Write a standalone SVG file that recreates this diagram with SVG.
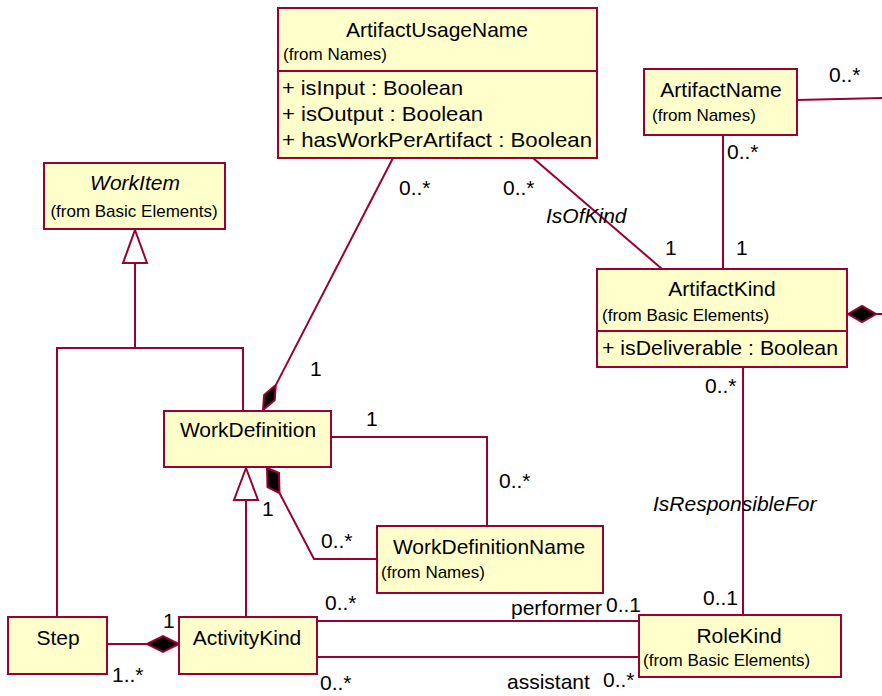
<svg xmlns="http://www.w3.org/2000/svg" width="882" height="696" viewBox="0 0 882 696">
<style>
.box{fill:#FFFFCC;stroke:#990033;stroke-width:2}
.ln{fill:none;stroke:#990033;stroke-width:2}
.dia{fill:#000;stroke:#990033;stroke-width:2;stroke-linejoin:miter}
.tri{fill:#fff;stroke:#990033;stroke-width:2}
text{font-family:"Liberation Sans",Arial,sans-serif;fill:#000}
.t{font-size:21px}
.c{text-anchor:middle}
.s{font-size:17px}
.i{font-style:italic}
</style>
<rect width="882" height="696" fill="#fff"/>
<g id="connectors">
<line class="ln" x1="393" y1="158" x2="275.8" y2="385.1"/>
<polygon class="dia" points="263,410 274.7,400.3 275.8,385.1 264.1,394.9"/>
<line class="ln" x1="533" y1="158" x2="662" y2="269"/>
<line class="ln" x1="723" y1="135" x2="723" y2="269"/>
<line class="ln" x1="797" y1="100" x2="882" y2="98"/>
<polygon class="dia" points="848,314 862,306 876,314 862,322"/>
<line class="ln" x1="876" y1="314" x2="882" y2="314"/>
<line class="ln" x1="743" y1="367" x2="743" y2="615"/>
<polygon class="tri" points="135,230 147,263 123,263"/>
<polyline class="ln" points="135,263 135,348"/>
<polyline class="ln" points="57,617 57,348 243,348 243,411"/>
<polyline class="ln" points="331,437 487,437 487,526"/>
<polygon class="dia" points="267,468 279,473 279.5,493 267.5,487"/>
<polyline class="ln" points="279.5,493 314,559 377,559"/>
<polygon class="tri" points="246,468 258,500 234,500"/>
<line class="ln" x1="246" y1="500" x2="246" y2="617"/>
<line class="ln" x1="107" y1="644" x2="147" y2="644"/>
<polygon class="dia" points="147,644 163,636 179,644 163,652"/>
<line class="ln" x1="317" y1="621" x2="639" y2="621"/>
<line class="ln" x1="317" y1="657" x2="639" y2="657"/>
<g id="labels">
<text class="t" x="399" y="195">0..*</text>
<text class="t" x="503" y="195">0..*</text>
<text class="t i" x="546" y="223">IsOfKind</text>
<text class="t" x="665" y="255">1</text>
<text class="t" x="736" y="255">1</text>
<text class="t" x="829" y="82">0..*</text>
<text class="t" x="727" y="159">0..*</text>
<text class="t" x="310" y="376">1</text>
<text class="t" x="366" y="426">1</text>
<text class="t" x="499" y="488">0..*</text>
<text class="t" x="321" y="548">0..*</text>
<text class="t" x="262" y="516">1</text>
<text class="t" x="705" y="393">0..*</text>
<text class="t i" x="653" y="511">IsResponsibleFor</text>
<text class="t" x="703" y="605">0..1</text>
<text class="t" x="511" y="615">performer</text>
<text class="t" x="606" y="612">0..1</text>
<text class="t" x="325" y="610">0..*</text>
<text class="t" x="320" y="690">0..*</text>
<text class="t" x="163" y="628">1</text>
<text class="t" x="112" y="682">1..*</text>
<text class="t" x="507" y="689">assistant</text>
<text class="t" x="603" y="687">0..*</text>
</g>
</g>
<g id="ArtifactUsageName">
<rect class="box" x="278" y="8" width="319" height="150"/>
<line class="ln" x1="278" y1="71" x2="597" y2="71"/>
<text class="t c" x="437" y="37">ArtifactUsageName</text>
<text class="s" x="283" y="60">(from Names)</text>
<text class="t" x="282" y="95" textLength="181" lengthAdjust="spacingAndGlyphs">+ isInput : Boolean</text>
<text class="t" x="282" y="121" textLength="201" lengthAdjust="spacingAndGlyphs">+ isOutput : Boolean</text>
<text class="t" x="282" y="147" textLength="310" lengthAdjust="spacingAndGlyphs">+ hasWorkPerArtifact : Boolean</text>
</g>
<g id="ArtifactName">
<rect class="box" x="644" y="69" width="153" height="66"/>
<text class="t c" x="721" y="97">ArtifactName</text>
<text class="s" x="652" y="121">(from Names)</text>
</g>
<g id="WorkItem">
<rect class="box" x="44" y="163" width="181" height="66"/>
<text class="t c i" x="135" y="190">WorkItem</text>
<text class="s c" x="134" y="217">(from Basic Elements)</text>
</g>
<g id="ArtifactKind">
<rect class="box" x="597" y="269" width="250" height="98"/>
<line class="ln" x1="597" y1="331" x2="847" y2="331"/>
<text class="t c" x="722" y="296">ArtifactKind</text>
<text class="s" x="602" y="321">(from Basic Elements)</text>
<text class="t" x="602" y="355" textLength="236" lengthAdjust="spacingAndGlyphs">+ isDeliverable : Boolean</text>
</g>
<g id="WorkDefinition">
<rect class="box" x="164" y="411" width="167" height="56"/>
<text class="t c" x="248" y="437">WorkDefinition</text>
</g>
<g id="WorkDefinitionName">
<rect class="box" x="377" y="526" width="226" height="67"/>
<text class="t c" x="489" y="554">WorkDefinitionName</text>
<text class="s" x="381" y="578">(from Names)</text>
</g>
<g id="Step">
<rect class="box" x="8" y="617" width="99" height="57"/>
<text class="t c" x="58" y="645">Step</text>
</g>
<g id="ActivityKind">
<rect class="box" x="179" y="617" width="138" height="57"/>
<text class="t c" x="247" y="645">ActivityKind</text>
</g>
<g id="RoleKind">
<rect class="box" x="639" y="615" width="202" height="62"/>
<text class="t c" x="739" y="643">RoleKind</text>
<text class="s" x="643" y="666">(from Basic Elements)</text>
</g>
</svg>
